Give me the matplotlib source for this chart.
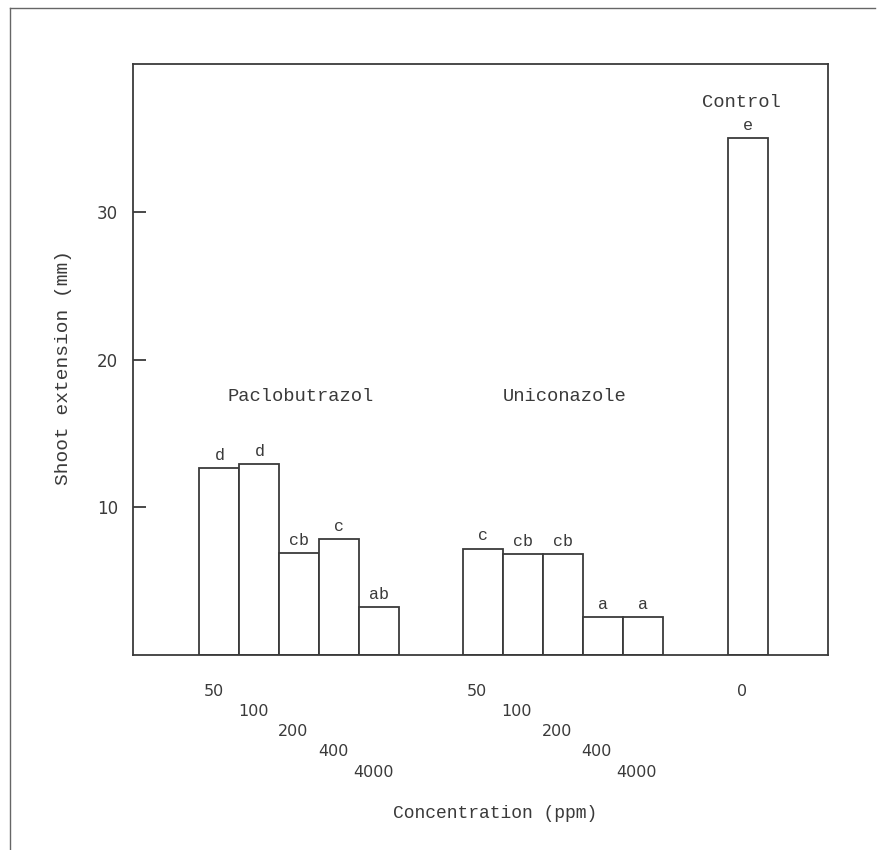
import matplotlib
matplotlib.use("Agg")
import matplotlib.pyplot as plt
from matplotlib.lines import Line2D
from matplotlib.transforms import blended_transform_factory

# values
paclo_conc = ["50", "100", "200", "400", "4000"]
paclo_vals = [12.65, 12.9, 6.9, 7.85, 3.25]
paclo_sig = ["d", "d", "cb", "c", "ab"]

unico_conc = ["50", "100", "200", "400", "4000"]
unico_vals = [7.2, 6.85, 6.85, 2.55, 2.55]
unico_sig = ["c", "cb", "cb", "a", "a"]

ctrl_conc = ["0"]
ctrl_vals = [35.0]
ctrl_sig = ["e"]

yticks = [10, 20, 30]

MONO = "Liberation Mono"
SANS = "DejaVu Sans"
INK = "#3a3a3a"

fig = plt.figure(figsize=(8.77, 8.5), dpi=100)
ax = fig.add_axes([0.1517, 0.2294, 0.7925, 0.6953])

paclo_x = [2.16 + i for i in range(5)]
unico_x = [8.75 + i for i in range(5)]
ctrl_x = [15.37]

# staggered label heights (axes fraction) for the 5 concentrations
stagger = [-0.061, -0.095, -0.129, -0.163, -0.198]
trans = blended_transform_factory(ax.transData, ax.transAxes)

for xs, vals, sig, conc in [(paclo_x, paclo_vals, paclo_sig, paclo_conc),
                            (unico_x, unico_vals, unico_sig, unico_conc),
                            (ctrl_x, ctrl_vals, ctrl_sig, ctrl_conc)]:
    ax.bar(xs, vals, width=1.0, facecolor="white", edgecolor=INK, linewidth=1.3)
    for i, (x, v, s, c) in enumerate(zip(xs, vals, sig, conc)):
        ax.text(x, v + 0.35, s, ha="center", va="bottom", family=MONO,
                fontsize=12, color=INK)
        ax.text(x - 0.15, stagger[i], c, transform=trans, ha="center",
                va="center", family=SANS, fontsize=11.5, color=INK)

ax.text(4.2, 17.5, "Paclobutrazol", ha="center", va="center", family=MONO,
        fontsize=13.5, color=INK)
ax.text(10.8, 17.5, "Uniconazole", ha="center", va="center", family=MONO,
        fontsize=13.5, color=INK)
ax.text(15.2, 37.4, "Control", ha="center", va="center", family=MONO,
        fontsize=13.5, color=INK)

ax.set_xlim(0, 17.38)
ax.set_ylim(0, 40)
ax.set_xticks([])
ax.set_yticks(yticks)
ax.set_yticklabels([str(t) for t in yticks], family=SANS, fontsize=12, color=INK)
ax.tick_params(axis="y", direction="in", length=9, width=1.3, color=INK, pad=11)
for sp in ax.spines.values():
    sp.set_color(INK)
    sp.set_linewidth(1.3)

ax.set_ylabel("Shoot extension (mm)", family=MONO, fontsize=14, color=INK)
ax.yaxis.set_label_coords(-0.088, 0.486)
ax.set_xlabel("Concentration (ppm)", family=MONO, fontsize=13, color=INK)
ax.xaxis.set_label_coords(0.521, -0.254)

# page frame from the scan
fig.add_artist(Line2D([10 / 877, 10 / 877], [0, 1 - 8 / 850],
                      transform=fig.transFigure, color="#666666", linewidth=1.0))
fig.add_artist(Line2D([10 / 877, 875 / 877], [1 - 8 / 850, 1 - 8 / 850],
                      transform=fig.transFigure, color="#666666", linewidth=1.0))

plt.savefig("out.png", dpi=100)
plt.close()
